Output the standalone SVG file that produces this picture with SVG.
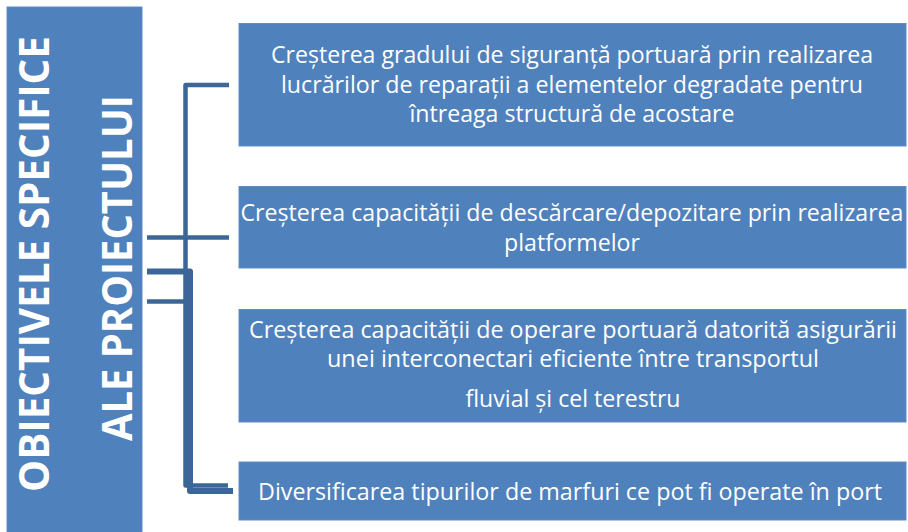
<svg xmlns="http://www.w3.org/2000/svg" width="908" height="532" viewBox="0 0 908 532">
<style>
.box{fill:#4F81BD;stroke:#5E8CC4;stroke-width:1}
.t{font-family:"Open Sans","Noto Sans","Liberation Sans",sans-serif;font-size:23px;fill:#FFFFFF;text-anchor:middle}
.h{font-family:"Open Sans","Noto Sans","Liberation Sans",sans-serif;font-size:41px;font-weight:bold;fill:#FFFFFF;text-anchor:middle}
.c{fill:none;stroke:#3D6698;stroke-linejoin:round;stroke-linecap:butt}
</style>
<rect width="908" height="532" fill="#FFFFFF"/>
<g id="title">
<rect class="box" x="7" y="7" width="135" height="526"/>
<text class="h" transform="translate(49,264) rotate(-90)" textLength="456" lengthAdjust="spacingAndGlyphs">OBIECTIVELE SPECIFICE</text>
<text class="h" transform="translate(131.5,268) rotate(-90)" textLength="346" lengthAdjust="spacingAndGlyphs">ALE PROIECTULUI</text>
</g>
<g id="connectors">
<path class="c" stroke-width="4.5" d="M229,85 H185.5 V485.5 H228"/>
<path class="c" stroke-width="4.5" d="M147,237.5 H229"/>
<path class="c" stroke-width="4.5" d="M147,301.5 H185.5"/>
<path class="c" stroke-width="6" d="M147,271.5 H190 V491 H233"/>
</g>
<g id="obj1">
<rect class="box" x="239" y="23.5" width="667" height="122.5"/>
<text class="t" x="572" y="63" textLength="602" lengthAdjust="spacingAndGlyphs">Creșterea gradului de siguranță portuară prin realizarea</text>
<text class="t" x="572" y="93" textLength="582" lengthAdjust="spacingAndGlyphs">lucrărilor de reparații a elementelor degradate pentru</text>
<text class="t" x="572" y="122" textLength="325" lengthAdjust="spacingAndGlyphs">întreaga structură de acostare</text>
</g>
<g id="obj2">
<rect class="box" x="239" y="186.5" width="667" height="81.5"/>
<text class="t" x="572" y="220.5" textLength="663" lengthAdjust="spacingAndGlyphs">Creșterea capacității de descărcare/depozitare prin realizarea</text>
<text class="t" x="572" y="251" textLength="136" lengthAdjust="spacingAndGlyphs">platformelor</text>
</g>
<g id="obj3">
<rect class="box" x="239" y="309.5" width="667" height="112.5"/>
<text class="t" x="573" y="338" textLength="648" lengthAdjust="spacingAndGlyphs">Creșterea capacității de operare portuară datorită asigurării</text>
<text class="t" x="573" y="367" textLength="492" lengthAdjust="spacingAndGlyphs">unei interconectari eficiente între transportul</text>
<text class="t" x="573" y="407" textLength="215" lengthAdjust="spacingAndGlyphs">fluvial și cel terestru</text>
</g>
<g id="obj4">
<rect class="box" x="239" y="462" width="667" height="58"/>
<text class="t" x="570" y="500" textLength="624" lengthAdjust="spacingAndGlyphs">Diversificarea tipurilor de marfuri ce pot fi operate în port</text>
</g>
</svg>
